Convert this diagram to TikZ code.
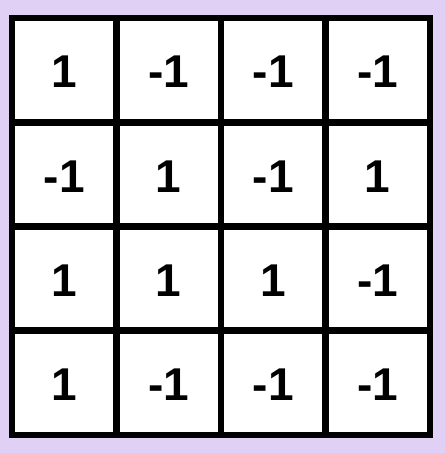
\documentclass[tikz,border=0pt]{standalone}
\usepackage{fontspec}
\setmainfont{Liberation Sans}
\usepackage{tikz}

\definecolor{lavender}{RGB}{224,208,246}

\begin{document}
\begin{tikzpicture}[x=0.75pt,y=0.75pt,yscale=-1,xscale=1]
        \tikzset{cellnum/.style={anchor=center,inner sep=0.75pt,font=\fontsize{34.5}{34.5}\selectfont\bfseries}}

        % Background
        \fill [lavender] (0,0) rectangle (445,453) ;
        \useasboundingbox (0,0) rectangle (445,453) ;

        % Cells
        \fill [white] (12,18) rectangle (430,435) ;
        %Shape: Grid
        \draw [line width=5, line cap=rect] (12,18) rectangle (430,435) ;
        \draw [line width=5] (116.5,18) -- (116.5,435) ;
        \draw [line width=5] (221,18) -- (221,435) ;
        \draw [line width=5] (325.5,18) -- (325.5,435) ;
        \draw [line width=5] (12,122.25) -- (430,122.25) ;
        \draw [line width=5] (12,226.5) -- (430,226.5) ;
        \draw [line width=5] (12,330.75) -- (430,330.75) ;

        % Text Node
        \draw (64.25,72) node [cellnum] (a11) {1};
        % Text Node
        \draw (168.75,72) node [cellnum] (a12) {-1};
        % Text Node
        \draw (273.25,72) node [cellnum] (a13) {-1};
        % Text Node
        \draw (377.75,72) node [cellnum] (a14) {-1};
        % Text Node
        \draw (64.25,176.25) node [cellnum] (a21) {-1};
        % Text Node
        \draw (168.75,176.25) node [cellnum] (a22) {1};
        % Text Node
        \draw (273.25,176.25) node [cellnum] (a23) {-1};
        % Text Node
        \draw (377.75,176.25) node [cellnum] (a24) {1};
        % Text Node
        \draw (64.25,280.5) node [cellnum] (a31) {1};
        % Text Node
        \draw (168.75,280.5) node [cellnum] (a32) {1};
        % Text Node
        \draw (273.25,280.5) node [cellnum] (a33) {1};
        % Text Node
        \draw (377.75,280.5) node [cellnum] (a34) {-1};
        % Text Node
        \draw (64.25,384.75) node [cellnum] (a41) {1};
        % Text Node
        \draw (168.75,384.75) node [cellnum] (a42) {-1};
        % Text Node
        \draw (273.25,384.75) node [cellnum] (a43) {-1};
        % Text Node
        \draw (377.75,384.75) node [cellnum] (a44) {-1};

\end{tikzpicture}
\end{document}
